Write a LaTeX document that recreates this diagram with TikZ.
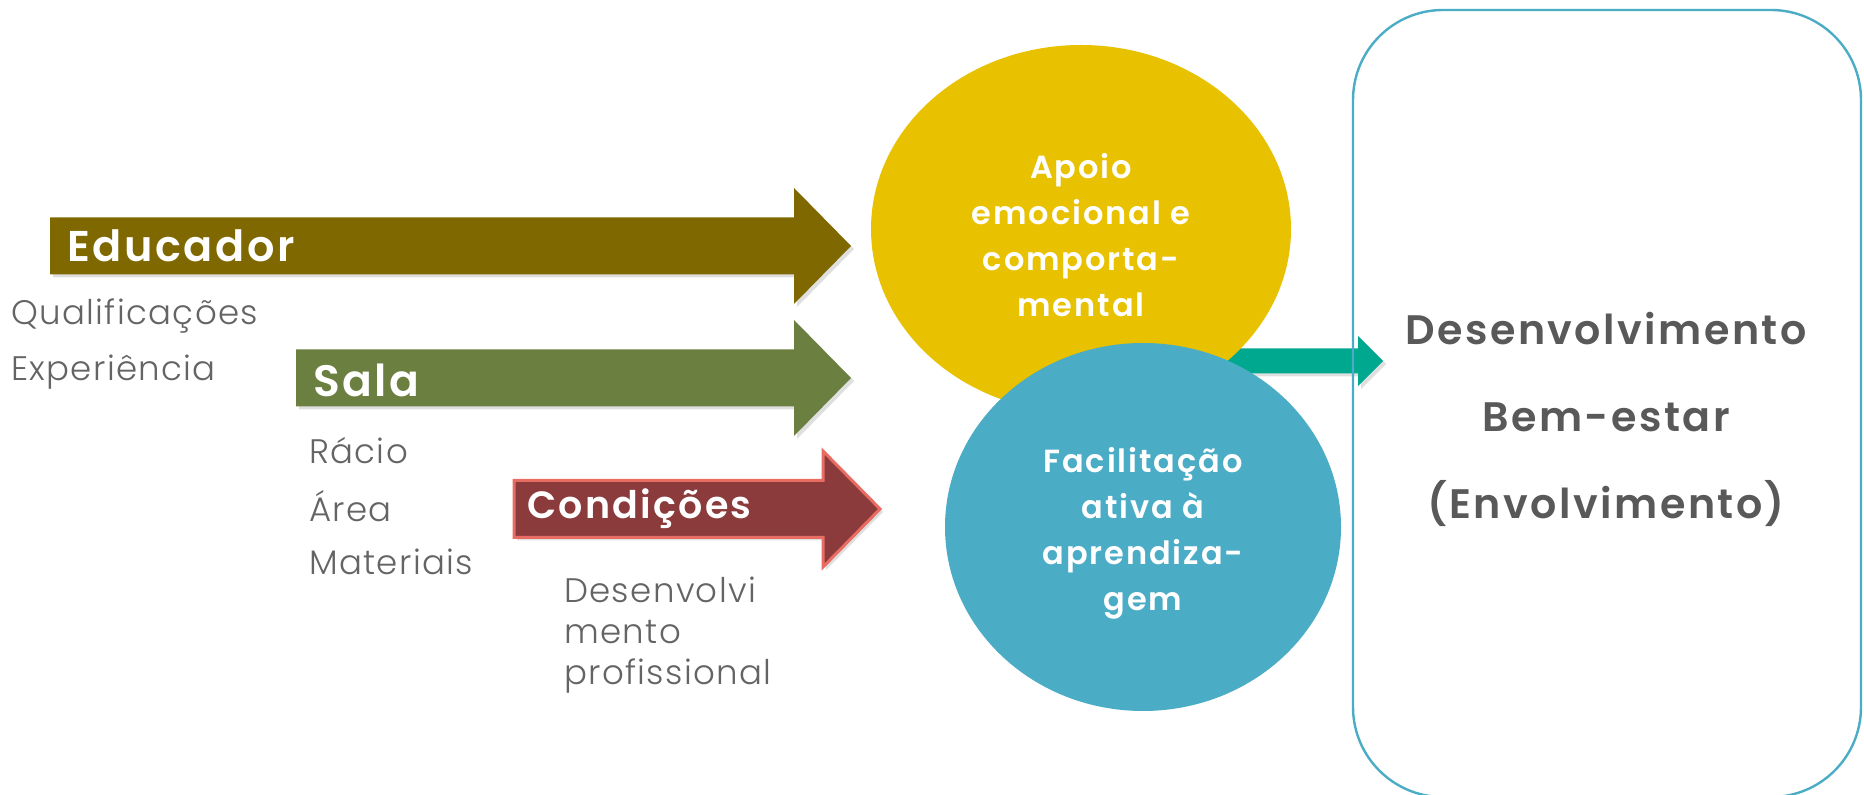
\documentclass[tikz,border=0pt]{standalone}
\usepackage{fontspec}
\setmainfont{Poppins}
\newfontfamily\labfont{Poppins Light}[LetterSpace=4]
\newfontfamily\headfont{Poppins SemiBold}[LetterSpace=6]
\usetikzlibrary{shadows}
\definecolor{educcol}{RGB}{127,104,0}
\definecolor{salacol}{RGB}{107,128,64}
\definecolor{condcol}{RGB}{139,59,59}
\definecolor{condedge}{RGB}{232,108,98}
\definecolor{apoiocol}{RGB}{232,193,0}
\definecolor{facilcol}{RGB}{75,172,198}
\definecolor{tealcol}{RGB}{0,168,144}
\definecolor{labgrey}{RGB}{100,100,100}
\definecolor{outgrey}{RGB}{89,89,89}
\tikzset{
  shade/.style={drop shadow={shadow xshift=1.5pt,shadow yshift=-1.5pt,opacity=.25}},
  armlabel/.style={anchor=west,text=white,font=\headfont\fontsize{#1}{24}\selectfont},
  armlabel/.default=21.5,
  lbl/.style={anchor=west,text=labgrey,font=\labfont\fontsize{17}{20}\selectfont},
  blobtext/.style={align=center,text=white,font=\headfont\fontsize{16}{23}\selectfont},
  outtext/.style={text=outgrey,font=\headfont\fontsize{20.6}{24}\selectfont}
}
\newcommand{\blockarrow}[7]{\fill[#1] (#2,#4-#5) -- (#3,#4-#5) -- (#3,#4-#6) -- (#7,#4) -- (#3,#4+#6) -- (#3,#4+#5) -- (#2,#4+#5) -- cycle;}
\begin{document}
\begin{tikzpicture}[x=0.5pt,y=-0.5pt]
\useasboundingbox (0,0) rectangle (1864,795);

\blockarrow{educcol,shade}{50}{794}{246}{28.5}{58}{851}
\blockarrow{salacol,shade}{296}{794}{378}{28.5}{58}{851}
\blockarrow{condcol,draw=condedge,line width=1.5,shade}{514}{823}{509}{28.5}{58}{880}
\blockarrow{tealcol,shade}{1200}{1358}{361}{12.5}{25}{1383}

\node[armlabel] (educ) at (60,246) {Educador};
\node[armlabel=22] (sala) at (306,380) {Sala};
\node[armlabel=19] (cond) at (520,509) {Condições};

\foreach \t/\x/\y in {Qualificações/4/316,Experiência/4/372,Rácio/302/451,Área/302/506,Materiais/302/562,Desenvolvi/557/590,mento/557/632,profissional/557/676}
  \node[lbl] (l-\t) at (\x,\y) {\t};

\fill[apoiocol] (1081,229) ellipse [x radius=210,y radius=184];
\fill[facilcol] (1143,527) ellipse [x radius=198,y radius=184];
\node[blobtext] (apoio) at (1081,235) {Apoio\\emocional e\\comporta-\\mental};
\node[blobtext] (facil) at (1143,533) {Facilitação\\ativa à\\aprendiza-\\gem};

\draw[facilcol,line width=1.2] (1353,10) [rounded corners=45] -- (1861,10) -- (1861,797) -- (1353,797) -- cycle;
\node[outtext] (desen) at (1606,329) {Desenvolvimento};
\node[outtext] (bem) at (1606,417) {Bem-estar};
\node[outtext] (envol) at (1606,504) {(Envolvimento)};
\end{tikzpicture}
\end{document}
